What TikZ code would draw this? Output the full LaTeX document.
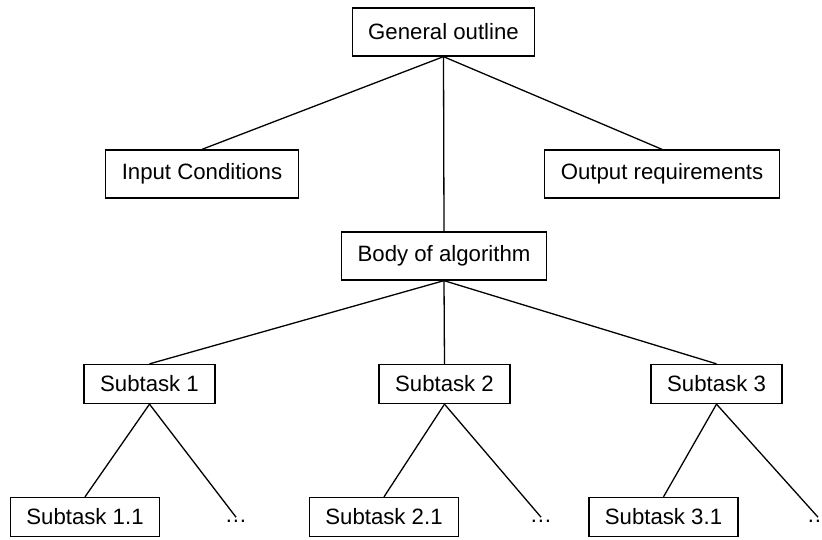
\documentclass[tikz,border=0pt]{standalone}
\usepackage{fontspec}
\setmainfont{Liberation Sans}
\usepackage{tikz}
\usetikzlibrary{arrows,positioning}
\tikzset{font=\fontsize{22.2}{26}\selectfont}
\tikzstyle{box}=[draw,line width=1.3pt,inner xsep=16pt,inner ysep=0pt,minimum height=48pt]
\tikzstyle{sbox}=[box,minimum height=39pt]
\tikzstyle{more}=[inner sep=2pt]
\tikzset{every picture/.style={line width=1.3pt}}

\begin{document}
\begin{tikzpicture}[x=1pt,y=-1pt]
\useasboundingbox (0,0) rectangle (822,540);
\node[box] (G) at (443.5,32) {General outline};
\node[box] (I) at (202,174) {Input Conditions};
\node[box] (O) at (662,174) {Output requirements};
\node[box] (B) at (444,256) {Body of algorithm};
\node[sbox] (S1) at (149.5,384) {Subtask 1};
\node[sbox] (S2) at (444.5,384) {Subtask 2};
\node[sbox] (S3) at (716.5,384) {Subtask 3};
\node[sbox] (S11) at (85,517) {Subtask 1.1};
\node[sbox] (S21) at (384,517) {Subtask 2.1};
\node[sbox] (S31) at (663.5,517) {Subtask 3.1};
\node[more] (D1) at (236,521) {\dots};
\node[more] (D2) at (541,521) {\dots};
\node[more] (D3) at (818,521) {\dots};
\path[line width=1.3pt]
(G.south) edge (I.north)
(G.south) edge (O.north)
(G.south) edge (B.north)
(B.south) edge (S1.north)
(B.south) edge (S2.north)
(B.south) edge (S3.north)
(S1.south) edge (S11.north)
(S1.south) edge (D1.north)
(S2.south) edge (S21.north)
(S2.south) edge (D2.north)
(S3.south) edge (S31.north)
(S3.south) edge (D3.north);
\end{tikzpicture}
\end{document}
